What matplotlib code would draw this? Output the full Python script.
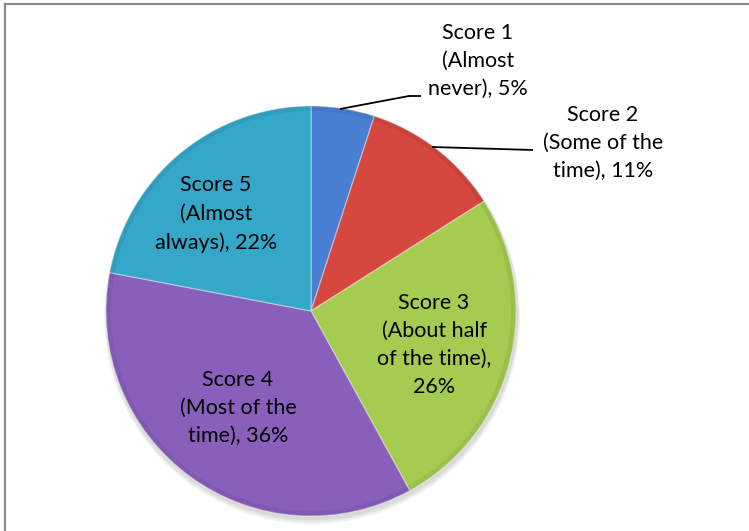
import matplotlib
matplotlib.use("Agg")
import matplotlib.pyplot as plt
from matplotlib.lines import Line2D

# Survey response shares
categories = ["Score 1", "Score 2", "Score 3", "Score 4", "Score 5"]
descriptions = ["(Almost\nnever)", "(Some of the\ntime)", "(About half\nof the time),\n",
                "(Most of the\ntime)", "(Almost\nalways)"]
values = [5, 11, 26, 36, 22]
colors = ["#4a7fd3", "#d5473f", "#a5cb50", "#8860bb", "#35a7c9"]

W, H = 749, 531
fig = plt.figure(figsize=(W / 100, H / 100), dpi=100)
ax = fig.add_axes([0, 0, 1, 1])

cx, cy, r = 311, H - 311, 205

# soft shadow under the pie
for i, a in enumerate([0.05, 0.05, 0.05]):
    shadow = plt.Circle((cx + 1, cy - 3 - i), r + 1 + i, color="black", alpha=a, lw=0)
    ax.add_patch(shadow)

wedges, _ = ax.pie(values, colors=colors, startangle=90, counterclock=False,
                   center=(cx, cy), radius=r,
                   wedgeprops=dict(edgecolor=(1, 1, 1, 0.35), linewidth=1.0))

# slight bevel: a darker ring along each wedge's outer edge
for w, c in zip(wedges, colors):
    ring = matplotlib.patches.Wedge((cx, cy), r, w.theta1, w.theta2, width=5,
                                    facecolor="black", alpha=0.06, lw=0)
    ax.add_patch(ring)

def label(i):
    d = descriptions[i]
    if d.endswith("\n"):
        return f"{categories[i]}\n{d}{values[i]}%"
    return f"{categories[i]}\n{d}, {values[i]}%"

# label anchor positions (pixel coordinates from top-left)
label_pos = [(478, 61), (603, 143), (434, 345), (238, 408), (216, 214)]
for i, (x, y) in enumerate(label_pos):
    ax.text(x, H - y, label(i), ha="center", va="center", fontsize=15.5,
            family=["Lato", "DejaVu Sans"], color="black", linespacing=1.52)

# leader lines for the two small slices
ax.plot([340, 409, 421], [H - 109, H - 96, H - 96], color="black", lw=1.3,
        solid_capstyle="butt")
ax.plot([432, 533], [H - 147, H - 150], color="black", lw=1.3,
        solid_capstyle="butt")

ax.set_xlim(0, W)
ax.set_ylim(0, H)
ax.set_aspect("equal")
ax.axis("off")

# chart frame (left and top edges)
fig.add_artist(Line2D([5 / W, 5 / W], [0, 1 - 4 / H], color="#8c8c8c", lw=1.6,
                      transform=fig.transFigure))
fig.add_artist(Line2D([5 / W, 1], [1 - 4 / H, 1 - 4 / H], color="#8c8c8c", lw=1.6,
                      transform=fig.transFigure))

fig.savefig("out.png", dpi=100)
